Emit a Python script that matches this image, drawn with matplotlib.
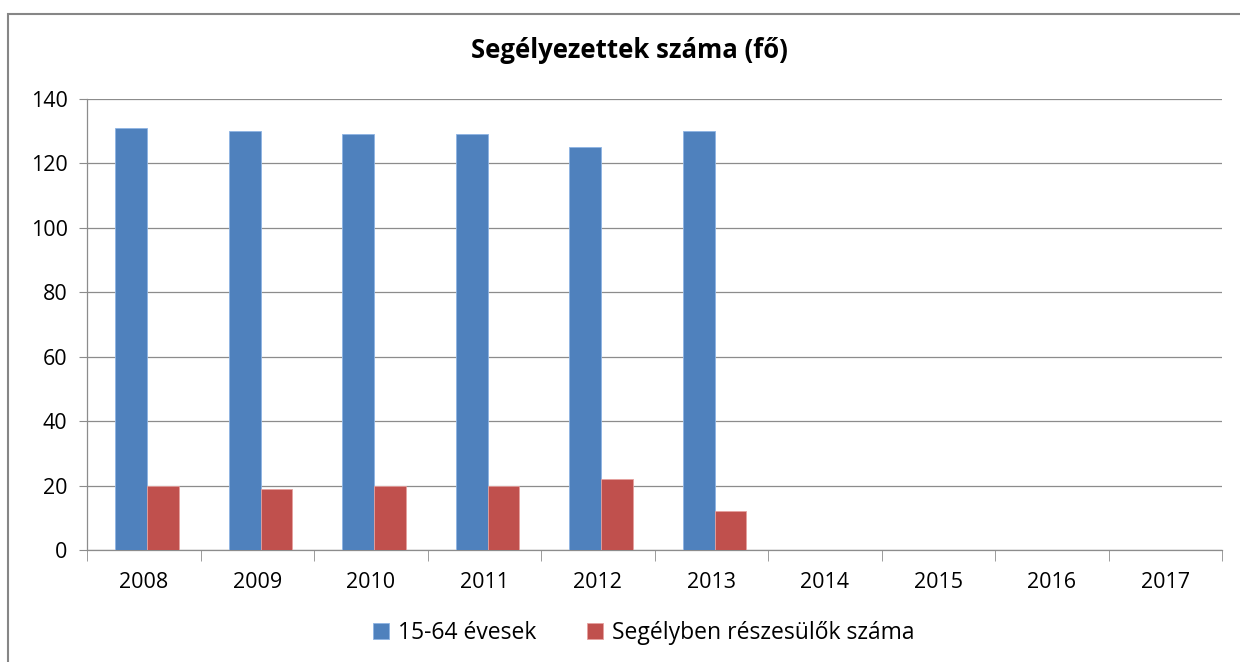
import matplotlib.pyplot as plt
import numpy as np
from matplotlib.patches import Rectangle

plt.rcParams['font.family'] = ['Open Sans', 'DejaVu Sans']

years = ['2008', '2009', '2010', '2011', '2012', '2013', '2014', '2015', '2016', '2017']
evesek = [131, 130, 129, 129, 125, 130, 0, 0, 0, 0]
segely = [20, 19, 20, 20, 22, 12, 0, 0, 0, 0]
yticks = [0, 20, 40, 60, 80, 100, 120, 140]

fig = plt.figure(figsize=(12.4, 6.62), dpi=100)
ax = fig.add_axes([87 / 1240, 1 - 550 / 662, (1222 - 87) / 1240, (550 - 99) / 662])

x = np.arange(len(years)) + 0.03
w = 0.28
ax.bar(x - w / 2, evesek, w, color='#4f81bd', edgecolor='#8eb4e3', linewidth=0.6, label='15-64 évesek', zorder=3)
ax.bar(x + w / 2, segely, w, color='#c0504d', edgecolor='#e6a09e', linewidth=0.6, label='Segélyben részesülők száma', zorder=3)

ax.set_xlim(-0.5, len(years) - 0.5)
ax.set_ylim(0, 140)
ax.set_yticks(yticks)
ax.set_yticklabels([str(v) for v in yticks], fontsize=15.5)
ax.yaxis.grid(True, color='#8c8c8c', linewidth=0.9, zorder=0)
ax.tick_params(axis='y', length=6, color='#8c8c8c', pad=8)

ax.set_xticks(np.arange(len(years)))
ax.set_xticklabels(years, fontsize=15.5)
ax.set_xticks(np.arange(-0.5, len(years), 1), minor=True)
ax.tick_params(axis='x', which='major', length=0, pad=16)
ax.tick_params(axis='x', which='minor', length=8, color='#8c8c8c')

for side in ['top', 'right']:
    ax.spines[side].set_visible(False)
for side in ['left', 'bottom']:
    ax.spines[side].set_color('#8c8c8c')
    ax.spines[side].set_linewidth(0.9)

fig.text(0.508, 1 - 51 / 662, 'Segélyezettek száma (fő)', ha='center', va='center', fontsize=18.5, fontweight='bold')

fig.legend(loc='center', bbox_to_anchor=(0.519, 1 - 633 / 662), ncol=2, frameon=False,
           fontsize=16.5, handlelength=0.7, handleheight=0.7, handletextpad=0.4, columnspacing=2.2)

fig.patches.append(Rectangle((8 / 1240, -0.1), 1.2, 1 - 14 / 662 + 0.1, transform=fig.transFigure,
                             fill=False, edgecolor='#868686', linewidth=1.5))

fig.savefig('out.png', dpi=100)
